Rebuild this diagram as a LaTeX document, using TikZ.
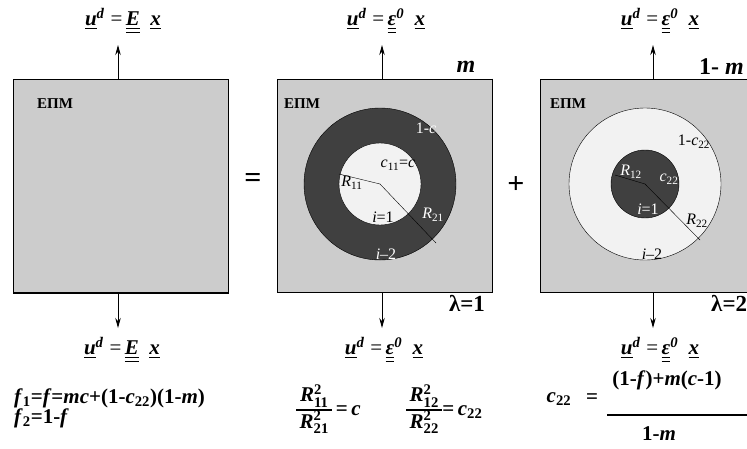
\documentclass[tikz,border=0pt]{standalone}
\usepackage{amsmath}
\usepackage{fontspec}
\setmainfont{Liberation Serif}
\usepackage{tikz}
\usetikzlibrary{arrows.meta}

\definecolor{matgray}{gray}{0.8}
\definecolor{darkph}{gray}{0.25}
\definecolor{lightph}{gray}{0.95}
\setlength{\arrayrulewidth}{1.3pt}

\newcommand{\bi}[1]{\textbf{\textit{#1}}}
\newcommand{\uvec}{\underline{\bi{u}}\textsuperscript{\bi{d}}}
\newcommand{\xvec}{\underline{\bi{x}}}
\newcommand{\epsvec}{\underline{\underline{\bi{ε}}}\textsuperscript{\bi{0}}}
\newcommand{\Rsq}[1]{\bi{R}$^{\text{\textbf{2}}}_{\text{\textbf{#1}}}$}

\begin{document}
\begin{tikzpicture}[x=1pt, y=-1pt,
    box/.style={draw, fill=matgray, line width=0.8pt, minimum width=215pt, minimum height=213pt, inner sep=0pt},
    ulab/.style={font=\fontsize{21}{21}\selectfont},
    mlab/.style={font=\fontsize{15}{15}\selectfont\bfseries},
    inlab/.style={font=\fontsize{16}{16}\selectfont, inner sep=1pt},
    blab/.style={font=\fontsize{23}{23}\selectfont\bfseries},
    flab/.style={font=\fontsize{21}{21}\selectfont, inner sep=0pt},
    >={Stealth[length=10pt, width=5.5pt]}]
                \useasboundingbox (0,0) rectangle (747,448);

                % three cells
                \node[box] (box1) at (120.5,186) {};
                \node[box] (box2) at (384.5,185.5) {};
                \node[box] (box3) at (647.5,185.5) {};
                \foreach \b in {box1,box2,box3} {
                    \draw[line width=1.6pt] (\b.north east) -- (\b.south east) -- (\b.south west);
                }

                \node[mlab] (em1) at (55,104) {ΕΠΜ};
                \node[mlab] (em2) at (302,104) {ΕΠΜ};
                \node[mlab] (em3) at (568,104) {ΕΠΜ};

                % lambda = 1 : coated inclusion
                \coordinate (o2) at (380,184);
                \draw[fill=darkph] (o2) circle (76);
                \draw[fill=lightph] (o2) circle (41);
                \draw (o2) -- ++(-41,-10);
                \draw (o2) -- ++(56,59);
                \node[inlab, white] (a2) at (426,128) {1-\textit{c}};
                \node[inlab] (c2) at (398,165) {\textit{c}\textsubscript{11}=\textit{c}};
                \node[inlab] (r2) at (352,183) {\textit{R}\textsubscript{11}};
                \node[inlab] (i2) at (383,217) {\textit{i}=1};
                \node[inlab, white] (s2) at (433,215) {\textit{R}\textsubscript{21}};
                \node[inlab, white] (j2) at (386,254) {\textit{i}–2};

                % lambda = 2 : inverted inclusion
                \coordinate (o3) at (645,184);
                \draw[fill=lightph] (o3) circle (76);
                \draw[fill=darkph] (o3) circle (34);
                \draw (o3) -- ++(-30,-9);
                \draw (o3) -- ++(55,56);
                \node[inlab] (a3) at (694,142) {1-\textit{c}\textsubscript{22}};
                \node[inlab, white] (r3) at (631,172) {\textit{R}\textsubscript{12}};
                \node[inlab, white] (c3) at (669,179) {\textit{c}\textsubscript{22}};
                \node[inlab, white] (i3) at (648,209) {\textit{i}=1};
                \node[inlab] (s3) at (697,221) {\textit{R}\textsubscript{22}};
                \node[inlab] (j3) at (652,254) {\textit{i}–2};

                % loads
                \node[ulab] (u1) at (123,21) {\uvec\;=\,\underline{\underline{\bi{E}}}\enspace\xvec};
                \node[ulab] (u2) at (386,21) {\uvec\;=\,\epsvec\enspace\xvec};
                \node[ulab] (u3) at (660,21) {\uvec\;=\,\epsvec\enspace\xvec};
                \node[ulab] (d1) at (122,350) {\uvec\;=\,\underline{\underline{\bi{E}}}\enspace\xvec};
                \node[ulab] (d2) at (384,350) {\uvec\;=\,\epsvec\enspace\xvec};
                \node[ulab] (d3) at (660,350) {\uvec\;=\,\epsvec\enspace\xvec};

                \coordinate (t1) at (118,45);
                \coordinate (t2) at (382,45);
                \coordinate (t3) at (653,45);
                \coordinate (b1) at (118,328);
                \coordinate (b2) at (382,328);
                \coordinate (b3) at (653,328);
                \draw[->, line width=0.8pt] ([xshift=-2.5pt]box1.north) -- (t1);
                \draw[->, line width=0.8pt] ([xshift=-2.5pt]box2.north) -- (t2);
                \draw[->, line width=0.8pt] ([xshift=5.5pt]box3.north) -- (t3);
                \draw[->, line width=0.8pt] ([xshift=-2.5pt]box1.south) -- (b1);
                \draw[->, line width=0.8pt] ([xshift=-2.5pt]box2.south) -- (b2);
                \draw[->, line width=0.8pt] ([xshift=5.5pt]box3.south) -- (b3);

                \node[font=\fontsize{30}{30}\selectfont\bfseries] (eq) at (253,180) {=};
                \node[font=\fontsize{30}{30}\selectfont\bfseries] (pl) at (516,185) {+};
                \node[font=\fontsize{24}{24}\selectfont] (m2) at (466,67) {\bi{m}};
                \node[font=\fontsize{24}{24}\selectfont, anchor=west, inner sep=0pt] (m3) at (699,67) {\textbf{1-} \bi{m}};
                \node[blab] (l1) at (467,303) {λ=1};
                \node[blab, anchor=west, inner sep=0pt] (l2) at (711,303) {λ=2};

                % volume fractions
                \node[flab, anchor=west] (f1) at (14,398) {\bi{f}\textsubscript{\textbf{1}}\textbf{=}\bi{f}\textbf{=}\bi{mc}\textbf{+(1-}\bi{c}\textsubscript{\textbf{22}}\textbf{)(1-}\bi{m}\textbf{)}};
                \node[flab, anchor=west] (f2) at (14,418) {\bi{f}\textsubscript{\textbf{2}}\textbf{=1-}\bi{f}};
                \node[flab, anchor=west] (q1) at (296,410) {\renewcommand{\arraystretch}{1.2}\begin{tabular}{@{\,}c@{\,}}\Rsq{11}\\\hline\Rsq{21}\end{tabular}\textbf{\,=\,}\bi{c}};
                \node[flab, anchor=west] (q2) at (406,410) {\renewcommand{\arraystretch}{1.2}\begin{tabular}{@{\,}c@{\,}}\Rsq{12}\\\hline\Rsq{22}\end{tabular}\textbf{=\,}\bi{c}\textsubscript{\textbf{22}}};
                \node[flab] (cq) at (559,399) {\bi{c}\textsubscript{\textbf{22}}};
                \node[flab] (ceq) at (592,399) {\textbf{=}};
                \node[flab] (cnum) at (667,380) {\textbf{(1-}\bi{f}\textbf{)+}\bi{m}\textbf{(}\bi{c}\textbf{-1)}};
                \node[flab] (cden) at (659,434) {\textbf{1-}\bi{m}};
                \coordinate (cb1) at (607,415);
                \coordinate (cb2) at (752,415);
                \draw[line width=1.4pt] (cb1) -- (cb2);
            \end{tikzpicture}
\end{document}
